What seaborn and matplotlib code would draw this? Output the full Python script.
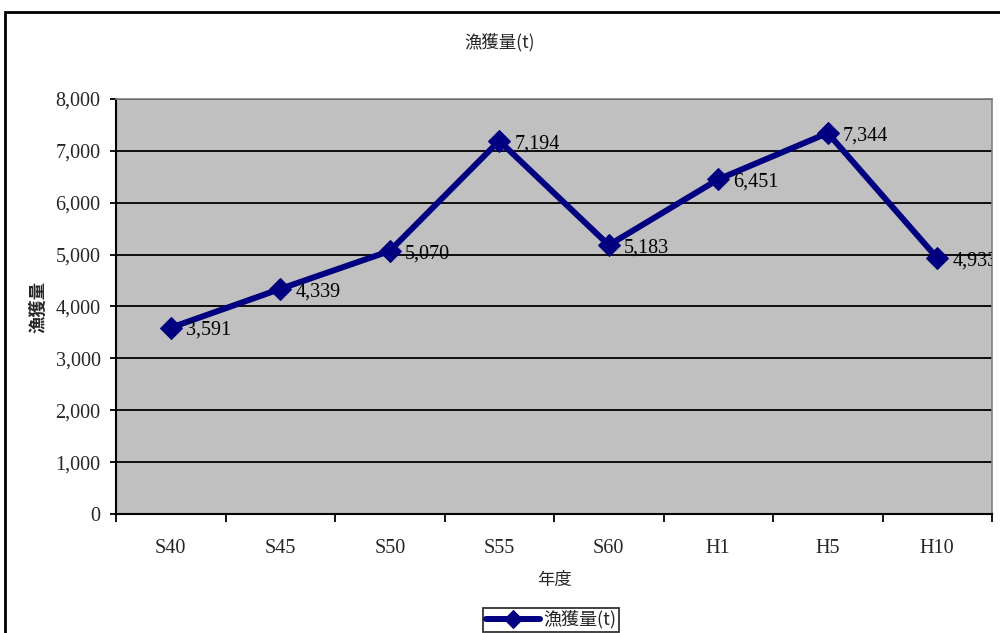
import matplotlib
matplotlib.use("Agg")
import matplotlib.pyplot as plt
import seaborn as sns
import pandas as pd
from matplotlib.patches import Rectangle
from matplotlib.ticker import FixedLocator, FuncFormatter

years = ["S40", "S45", "S50", "S55", "S60", "H1", "H5", "H10"]
catch = [3591, 4339, 5070, 7194, 5183, 6451, 7344, 4933]
series_name = "漁獲量(t)"
title = "漁獲量(t)"
xlabel = "年度"
ylabel = "漁獲量"

sns.set_style("white")
plt.rcParams['font.family'] = ['Noto Sans CJK JP', 'DejaVu Sans']

df = pd.DataFrame({"year": years, "catch": catch})

fig = plt.figure(figsize=(10, 6.33), dpi=100)
ax = fig.add_axes([0.116, 0.188, 0.876, 0.6556])
ax.set_facecolor("#C0C0C0")

sns.lineplot(data=df, x="year", y="catch", ax=ax, color="#000080", linewidth=4.3,
             marker="D", markersize=11, markeredgecolor="#000080", label=series_name,
             sort=False)

ax.set_xlim(-0.5, len(years) - 0.5)
ax.set_ylim(0, 8000)
ax.set_yticks(range(0, 8001, 1000))
ax.yaxis.set_major_formatter(FuncFormatter(lambda v, p: f"{int(v):,}"))
ax.grid(axis="y", color="black", linewidth=1.3)
ax.grid(axis="x", visible=False)

ax.set_xticks(range(len(years)))
ax.set_xticklabels(years)
ax.xaxis.set_minor_locator(FixedLocator([i - 0.5 for i in range(len(years) + 1)]))
ax.tick_params(axis="x", which="major", length=0, pad=18)
ax.tick_params(axis="x", which="minor", length=6, width=1.3, color="black", direction="out", bottom=True)
ax.tick_params(axis="y", length=4, width=1.3, color="black", direction="out", left=True, pad=7)

for lab in ax.get_xticklabels() + ax.get_yticklabels():
    lab.set_fontfamily("Liberation Serif")
    lab.set_fontsize(14.5)

for s in ["left", "bottom"]:
    ax.spines[s].set_color("black")
    ax.spines[s].set_linewidth(1.5)
for s in ["top", "right"]:
    ax.spines[s].set_color("#808080")
    ax.spines[s].set_linewidth(1.2)

for i, v in enumerate(catch):
    ax.annotate(f"{v:,}", xy=(i, v), xytext=(11, -2), textcoords="offset points",
                ha="left", va="center", fontsize=14.5, fontfamily="Liberation Serif",
                color="black", annotation_clip=False, clip_on=True)

ax.set_xlabel(xlabel, fontsize=12.5, labelpad=9)
ax.set_ylabel(ylabel, fontsize=12.5, labelpad=6, fontweight="bold")
fig.text(0.5, 1 - 42 / 633, title, ha="center", va="center", fontsize=12.5)

leg = ax.legend(loc="center", bbox_to_anchor=(0.551, 0.021), bbox_transform=fig.transFigure,
                frameon=True, fancybox=False, edgecolor="black", fontsize=13,
                handlelength=3.0, borderpad=0.15, handletextpad=0.2, borderaxespad=0)
leg.get_frame().set_linewidth(1.3)
for h in leg.legend_handles:
    h.set_markersize(9)

fig.patches.append(Rectangle((0.005, -0.1), 1.2, 1.1 - 12 / 633, transform=fig.transFigure,
                             fill=False, edgecolor="black", linewidth=2, zorder=0))

fig.savefig("out.png", dpi=100, facecolor="white")
